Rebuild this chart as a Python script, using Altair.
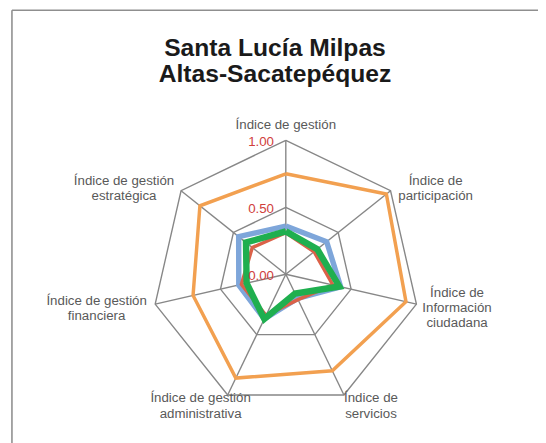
import altair as alt
import pandas as pd
import numpy as np

# ---------------- data ----------------
axes = [
    "Índice de gestión",
    "Índice de participación",
    "Índice de Información ciudadana",
    "Índice de servicios",
    "Índice de gestión administrativa",
    "Índice de gestión financiera",
    "Índice de gestión estratégica",
]
label_lines = [
    ["Índice de gestión"],
    ["Índice de", "participación"],
    ["Índice de", "Información", "ciudadana"],
    ["Índice de", "servicios"],
    ["Índice de gestión", "administrativa"],
    ["Índice de gestión", "financiera"],
    ["Índice de gestión", "estratégica"],
]
series_names = ["Serie 1", "Serie 2", "Serie 3", "Serie 4"]
orange_vals = [0.75, 0.96, 0.92, 0.80, 0.86, 0.71, 0.82]
blue_vals = [0.36, 0.39, 0.42, 0.20, 0.37, 0.36, 0.45]
red_vals = [0.31, 0.27, 0.36, 0.21, 0.34, 0.34, 0.32]
green_vals = [0.32, 0.30, 0.41, 0.16, 0.37, 0.30, 0.38]
ring_levels = [0.5, 1.0]
tick_values = [0.0, 0.5, 1.0]
tick_labels = ["0.00", "0.50", "1.00"]
title_lines = ["Santa Lucía Milpas", "Altas-Sacatepéquez"]

# ---------------- layout ----------------
PAD_L, PAD_T = 5, 5
W, H = 546 - 8 - PAD_L, 443 - 8 - PAD_T
CX, CY = 290 - 8 - PAD_L, 275 - 8 - PAD_T   # radar centre inside the view
R = 136.0                                   # pixel radius of value 1.0
N = len(axes)

xscale = alt.Scale(domain=[-CX / R, (W - CX) / R], nice=False, zero=False)
yscale = alt.Scale(domain=[-(H - CY) / R, CY / R], nice=False, zero=False)
X = lambda f: alt.X(f, type="quantitative", scale=xscale, axis=None)
Y = lambda f: alt.Y(f, type="quantitative", scale=yscale, axis=None)

def with_xy(ch):
    return ch.transform_calculate(
        x=f"datum.r * sin(2 * PI * datum.k / {N})"
    ).transform_calculate(
        y=f"datum.r * cos(2 * PI * datum.k / {N})"
    )

GRID = "#878787"

# rings
ring_df = pd.DataFrame([{"ring": lv, "k": k, "r": lv} for lv in ring_levels for k in range(N + 1)])
rings = with_xy(alt.Chart(ring_df).mark_line(color=GRID, strokeWidth=1.4, strokeJoin="miter")).encode(
    x=X("x"), y=Y("y"), detail="ring:N", order="k:Q"
)

# spokes
spoke_df = pd.DataFrame({"k": list(range(N)), "axis": axes,
                         "r": [max(ring_levels)] * N, "origin": [0.0] * N})
spokes = with_xy(alt.Chart(spoke_df).mark_rule(color=GRID, strokeWidth=1.4)).encode(
    x=X("origin"), y=Y("origin"), x2=alt.X2("x"), y2=alt.Y2("y"),
)

# series polygons
series_vals = [orange_vals, blue_vals, red_vals, green_vals]
series_colors = ["#F2A050", "#7EA6DA", "#DB6148", "#1FAF4F"]
series_widths = [3.5, 5.5, 3.5, 6.5]
series_layers = []
for name, vals, col, w in zip(series_names, series_vals, series_colors, series_widths):
    df = pd.DataFrame({"serie": name, "k": list(range(N + 1)),
                       "axis": axes + [axes[0]], "r": vals + [vals[0]]})
    series_layers.append(
        with_xy(alt.Chart(df).mark_line(color=col, strokeWidth=w, strokeJoin="miter")).encode(
            x=X("x"), y=Y("y"), order="k:Q", detail="serie:N"
        )
    )

# tick labels (red values along the top spoke)
tick_df = pd.DataFrame({"r": tick_values, "label": tick_labels, "origin": [0.0] * len(tick_values)})
ticks = alt.Chart(tick_df).mark_text(
    align="right", baseline="middle", dx=-12, dy=2, fontSize=13.5,
    font="Liberation Sans", color="#D0403C"
).encode(x=X("origin"), y=Y("r"), text="label:N")

# category labels around the radar
FS = 13.5
LH = 15.5
charw = 0.45 * FS
BOTTOM_HALF = 24
lx, ly = [], []
for k, lines in enumerate(label_lines):
    th = 2 * np.pi * k / N
    dx, dy = np.sin(th), np.cos(th)
    if abs(dx) > 0.5:
        halfw = max(len(s) for s in lines) * charw / 2
    else:
        halfw = BOTTOM_HALF
    s = np.sign(dx) if abs(dx) > 0.1 else 0.0
    ox = 8 * dx + s * halfw
    oy = 8 * dy + (7 if dy > 0.95 else 0) + (len(lines) - 1) * LH / 2
    if len(lines) > 1:
        oy -= 2.5 if dy > -0.5 else 4
    lx.append(float(dx + ox / R))
    ly.append(float(dy + oy / R))
lab_df = pd.DataFrame({"axis": axes, "text": ["\n".join(l) for l in label_lines], "lx": lx, "ly": ly})
labels = alt.Chart(lab_df).mark_text(
    align="center", baseline="middle", fontSize=FS, lineBreak="\n", lineHeight=LH,
    font="Liberation Sans", color="#595959"
).encode(x=X("lx"), y=Y("ly"), text="text:N")

# title
title_df = pd.DataFrame({"t": ["\n".join(title_lines)]})
title = alt.Chart(title_df).mark_text(
    align="center", baseline="alphabetic", fontSize=25, fontWeight="bold", lineBreak="\n",
    lineHeight=27, font="Liberation Sans", color="#1a1a1a"
).encode(x=alt.value(279 - 8 - PAD_L), y=alt.value(53 - 8 - PAD_T), text="t:N")

# outer frame (top and left edges visible)
frame_top = alt.Chart(title_df).mark_rule(color="#8f8f8f", strokeWidth=1.6).encode(
    x=alt.value(12 - 8 - PAD_L), x2=alt.value(W + 10), y=alt.value(7 - 8 - PAD_T)
)
frame_left = alt.Chart(title_df).mark_rule(color="#8f8f8f", strokeWidth=1.6).encode(
    x=alt.value(12 - 8 - PAD_L), y=alt.value(7 - 8 - PAD_T), y2=alt.value(H + 10)
)

chart = alt.layer(
    frame_top, frame_left, rings, spokes, *series_layers, ticks, labels, title
).properties(
    width=W, height=H,
    autosize=alt.AutoSizeParams(type="none"),
    padding={"left": PAD_L, "top": PAD_T, "right": 0, "bottom": 0},
).configure_view(stroke=None)

chart.save("out.html", embed_options={"renderer": "svg", "actions": False})
